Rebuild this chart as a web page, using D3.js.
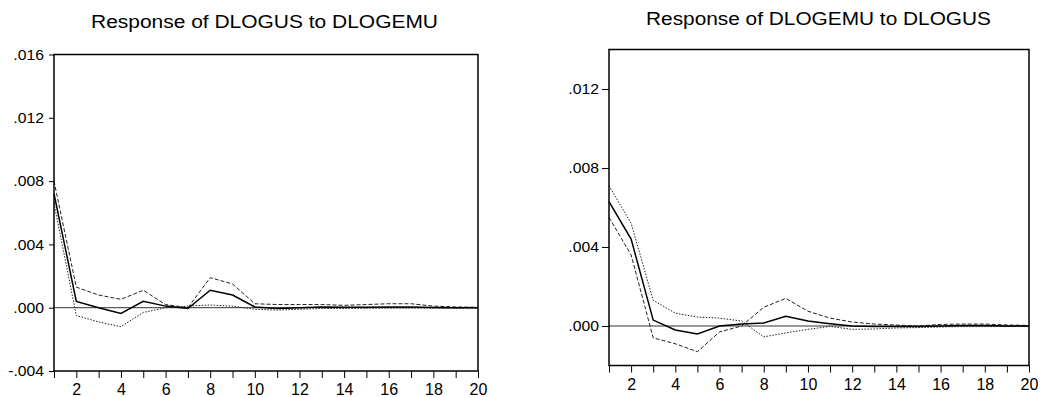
<!DOCTYPE html>
<html><head><meta charset="utf-8">
<script src="https://cdn.jsdelivr.net/npm/d3@7"></script>
<style>
body{margin:0;background:#fff}
svg{display:block}
text{font-family:"Liberation Sans",Arial,Helvetica,sans-serif;fill:#000}
</style>
</head><body>
<svg id="chart" width="1040" height="397"></svg>
<script>
// ---------- data ----------
const periods = d3.range(1, 21);
const xTickLabels = [2, 4, 6, 8, 10, 12, 14, 16, 18, 20];

const leftTitle = "Response of DLOGUS to DLOGEMU";
const leftYTicks = [-0.004, 0.000, 0.004, 0.008, 0.012, 0.016];
const leftDomain = [-0.004, 0.016];
const leftResponse = [0.0072, 0.0004, 0.0000, -0.00036, 0.0004, 0.0001, -0.00005, 0.0011, 0.0008, 0.00005,
                      -0.00005, 0.0000, 0.00005, 0.00003, 0.00003, 0.00005, 0.00005, 0.00002, 0.0000, 0.0000];
const leftBandDashed = [0.0080, 0.0013, 0.0008, 0.00053, 0.0011, 0.0002, 0.0000, 0.0019, 0.0015, 0.00025,
                        0.0002, 0.0002, 0.0002, 0.00015, 0.0002, 0.00025, 0.00025, 0.0001, 0.00005, 0.00003];
const leftBandDotted = [0.0066, -0.0005, -0.0009, -0.0012, -0.0003, 0.0000, 0.0001, 0.00017, 0.0001, -0.0001,
                        -0.00015, -0.0001, -0.00005, -0.00005, -0.00003, -0.00002, -0.00002, -0.00002, -0.00003, -0.00002];

const rightTitle = "Response of DLOGEMU to DLOGUS";
const rightYTicks = [0.000, 0.004, 0.008, 0.012];
const rightDomain = [-0.002, 0.014];
const rightResponse = [0.0063, 0.0044, 0.0003, -0.0002, -0.0004, 0.0000, 0.0001, 0.00015, 0.00049, 0.00025,
                       0.00012, 0.0000, -0.00002, -0.00003, -0.00002, 0.0000, 0.00002, 0.00002, 0.0000, 0.0000];
const rightBandDashed = [0.0055, 0.0036, -0.0006, -0.0009, -0.0013, -0.0003, 0.0000, 0.00095, 0.0014, 0.00075,
                         0.0004, 0.0002, 0.0001, 0.00005, 0.0000, 0.00008, 0.0001, 0.0001, 0.00005, 0.00003];
const rightBandDotted = [0.0071, 0.0052, 0.0013, 0.00065, 0.00045, 0.0004, 0.00025, -0.00055, -0.00035, -0.00017,
                         -0.00002, -0.00017, -0.00015, -0.0001, -0.00008, -0.00005, -0.00003, -0.00003, -0.00003, -0.00002];

// ---------- drawing ----------
const svg = d3.select("#chart");
svg.append("rect").attr("width", 1040).attr("height", 397).attr("fill", "#fff");

const fmt = v => (v < 0 ? "-" : "") + Math.abs(v).toFixed(3).replace(/^0/, "");

function panel(cfg) {
  const g = svg.append("g");
  const x = d3.scaleLinear().domain([1, 20]).range([cfg.left, cfg.right]);
  const y = d3.scaleLinear().domain(cfg.domain).range([cfg.bottom, cfg.top]);

  // zero line
  g.append("line")
    .attr("x1", x(1)).attr("x2", x(20))
    .attr("y1", y(0)).attr("y2", y(0))
    .attr("stroke", "#333").attr("stroke-width", 1);

  const line = d3.line().x((d, i) => x(periods[i])).y(d => y(d));

  g.append("path").datum(cfg.dashed).attr("d", line)
    .attr("fill", "none").attr("stroke", "#222").attr("stroke-width", 1)
    .attr("stroke-dasharray", "4,2");
  g.append("path").datum(cfg.dotted).attr("d", line)
    .attr("fill", "none").attr("stroke", "#222").attr("stroke-width", 1)
    .attr("stroke-dasharray", "1.5,1.5");
  g.append("path").datum(cfg.response).attr("d", line)
    .attr("fill", "none").attr("stroke", "#000").attr("stroke-width", 1.5);

  // frame
  g.append("rect")
    .attr("x", cfg.left).attr("y", cfg.top)
    .attr("width", cfg.right - cfg.left).attr("height", cfg.bottom - cfg.top)
    .attr("fill", "none").attr("stroke", "#000").attr("stroke-width", 1.5);

  // y axis
  const yAxis = d3.axisLeft(y).tickValues(cfg.yTicks).tickSize(cfg.yTick).tickPadding(cfg.yPad).tickFormat(fmt);
  const yg = g.append("g").attr("transform", `translate(${cfg.left},0)`).call(yAxis);
  yg.attr("font-size", null).attr("font-family", null);
  yg.select(".domain").remove();
  yg.selectAll(".tick line").attr("stroke", "#000");
  const off = cfg.yTick + cfg.yPad;
  yg.selectAll(".tick text")
    .attr("font-size", 15)
    .attr("x", 0)
    .attr("transform", `translate(${-off},0) scale(1.05,1)`);

  // x axis
  const xAxis = d3.axisBottom(x).tickValues(periods).tickSize(7).tickPadding(6)
    .tickFormat(d => xTickLabels.includes(d) ? String(d) : "");
  const xg = g.append("g").attr("transform", `translate(0,${cfg.bottom})`).call(xAxis);
  xg.attr("font-size", null).attr("font-family", null);
  xg.select(".domain").remove();
  xg.selectAll(".tick line").attr("stroke", "#000");
  xg.selectAll(".tick text").attr("font-size", 16);

  // title
  g.append("text")
    .attr("x", cfg.titleX).attr("y", cfg.titleY)
    .attr("text-anchor", "middle")
    .attr("font-size", 18)
    .attr("textLength", cfg.titleW).attr("lengthAdjust", "spacingAndGlyphs")
    .text(cfg.title);
}

panel({
  title: leftTitle, titleX: 264.5, titleY: 28, titleW: 347,
  left: 54, right: 478, top: 54.5, bottom: 371,
  domain: leftDomain, yTicks: leftYTicks, yTick: 5, yPad: 5,
  response: leftResponse, dashed: leftBandDashed, dotted: leftBandDotted
});

panel({
  title: rightTitle, titleX: 818.5, titleY: 25, titleW: 345,
  left: 609, right: 1029, top: 49.5, bottom: 365.5,
  domain: rightDomain, yTicks: rightYTicks, yTick: 7, yPad: 3,
  response: rightResponse, dashed: rightBandDashed, dotted: rightBandDotted
});
</script>
</body></html>
